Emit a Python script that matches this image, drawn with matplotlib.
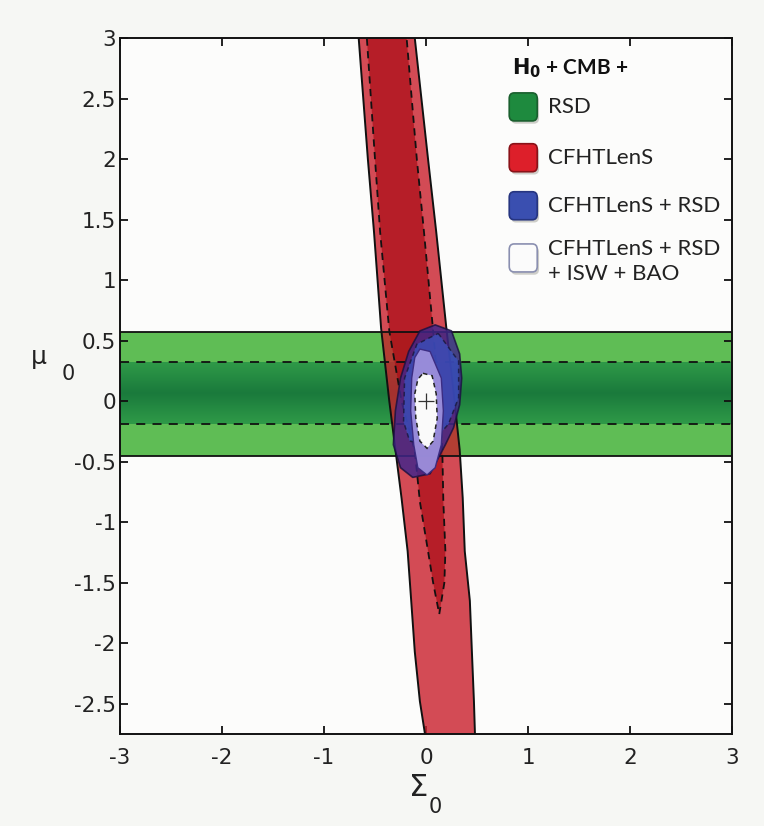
import numpy as np
import matplotlib
matplotlib.use("Agg")
import matplotlib.pyplot as plt
from matplotlib.patches import Polygon, FancyBboxPatch
from matplotlib.colors import LinearSegmentedColormap

plt.rcParams['axes.unicode_minus'] = False
plt.rcParams['font.family'] = ['DejaVu Sans']

# ---------------- data ----------------
# RSD constraint on mu_0 (horizontal band): 95% and 68% limits
rsd_95 = [-0.45, 0.57]
rsd_68 = [-0.19, 0.32]

# CFHTLenS 95% contour: left and right edges (Sigma_0) at given mu_0
cf95_y = [3.10, 3.00, 2.00, 1.40, 0.60, 0.00, -0.40, -0.80, -1.24, -1.65, -2.07, -2.48, -2.75, -2.85]
cf95_left = [-0.67, -0.66, -0.57, -0.51, -0.44, -0.36, -0.30, -0.24, -0.18, -0.145, -0.11, -0.06, -0.01, 0.01]
cf95_right = [-0.12, -0.11, 0.02, 0.10, 0.20, 0.28, 0.33, 0.36, 0.38, 0.43, 0.45, 0.47, 0.48, 0.49]

# CFHTLenS 68% contour (closes at a tip near mu_0 = -1.76)
cf68_y = [3.10, 3.00, 2.00, 1.40, 0.58, 0.00, -0.41, -0.83, -1.24, -1.50, -1.76]
cf68_left = [-0.59, -0.58, -0.50, -0.45, -0.36, -0.24, -0.11, -0.06, 0.02, 0.07, 0.13]
cf68_right = [-0.20, -0.19, -0.09, -0.02, 0.07, 0.13, 0.16, 0.17, 0.19, 0.18, 0.13]

# CFHTLenS + RSD contours (closed outlines)
cr95_x = [0.09, 0.25, 0.33, 0.35, 0.33, 0.27, 0.19, 0.04, -0.13, -0.25, -0.32, -0.30, -0.25, -0.17, -0.06]
cr95_y = [0.63, 0.58, 0.39, 0.19, -0.03, -0.22, -0.36, -0.60, -0.63, -0.55, -0.36, -0.08, 0.19, 0.41, 0.58]
cr68_x = [0.12, 0.32, 0.32, 0.22, 0.04, -0.16, -0.22, -0.21, -0.09]
cr68_y = [0.56, 0.33, 0.03, -0.19, -0.36, -0.33, -0.17, 0.19, 0.47]

# CFHTLenS + RSD + ISW + BAO contours
all95_x = [-0.06, 0.04, 0.15, 0.17, 0.15, 0.09, 0.01, -0.08, -0.12, -0.15, -0.14, -0.11]
all95_y = [0.43, 0.41, 0.19, -0.08, -0.36, -0.55, -0.61, -0.55, -0.36, -0.08, 0.19, 0.36]
all68_x = [-0.03, 0.06, 0.10, 0.11, 0.07, 0.01, -0.06, -0.10, -0.11, -0.08]
all68_y = [0.23, 0.21, 0.06, -0.14, -0.33, -0.39, -0.33, -0.14, 0.06, 0.18]

# GR point
gr_point = (0.0, 0.0)

legend_title = r'$\mathbf{H_0}$' + ' + CMB +'
legend_labels = ['RSD', 'CFHTLenS', 'CFHTLenS + RSD', 'CFHTLenS + RSD\n+ ISW + BAO']

xticks = [-3, -2, -1, 0, 1, 2, 3]
yticks = [-2.5, -2, -1.5, -1, -0.5, 0, 0.5, 1, 1.5, 2, 2.5, 3]
xlim = (-3, 3)
ylim = (-2.75, 3)

# ---------------- figure ----------------
W, H = 764, 826
fig = plt.figure(figsize=(W / 100, H / 100), dpi=100, facecolor='#f6f7f4')
ax = fig.add_axes([120 / W, (H - 734) / H, 612 / W, 696 / H])
ax.set_facecolor('#fcfcfb')

# green RSD band
ax.axhspan(rsd_95[0], rsd_95[1], color='#5fbd55', zorder=1, lw=0)
gcmap = LinearSegmentedColormap.from_list('g', ['#2f9a48', '#1a7a3c', '#2f9a48'])
grad = np.linspace(0, 1, 200).reshape(-1, 1)
ax.imshow(grad, cmap=gcmap, aspect='auto', extent=[xlim[0], xlim[1], rsd_68[0], rsd_68[1]],
          origin='lower', zorder=1.1, interpolation='bilinear')
ax.set_xlim(*xlim)
ax.set_ylim(*ylim)

# red CFHTLenS contours
out_x = cf95_left + cf95_right[::-1]
out_y = cf95_y + cf95_y[::-1]
ax.add_patch(Polygon(np.column_stack([out_x, out_y]), closed=True, facecolor=(0.79, 0.12, 0.17),
                     alpha=0.8, edgecolor='none', zorder=2))
ax.add_patch(Polygon(np.column_stack([out_x, out_y]), closed=True, facecolor='none',
                     edgecolor='#111111', lw=1.4, zorder=2.2, joinstyle='round'))
in_x = cf68_left + cf68_right[::-1]
in_y = cf68_y + cf68_y[::-1]
ax.add_patch(Polygon(np.column_stack([in_x, in_y]), closed=True, facecolor=(0.67, 0.05, 0.09),
                     alpha=0.72, edgecolor='none', zorder=2.1))
ax.add_patch(Polygon(np.column_stack([in_x, in_y]), closed=True, facecolor='none',
                     edgecolor='#111111', lw=1.3, ls=(0, (4, 3)), zorder=2.3))

# green band edges
for v in rsd_95:
    ax.axhline(v, color='#111111', lw=1.3, zorder=2.5)
for v in rsd_68:
    ax.axhline(v, color='#111111', lw=1.3, ls=(0, (5, 4)), zorder=2.5)

# blue CFHTLenS + RSD
ax.add_patch(Polygon(np.column_stack([cr95_x, cr95_y]), closed=True, facecolor=(0.25, 0.15, 0.55),
                     alpha=0.82, edgecolor='#1a1040', lw=1.2, zorder=3, joinstyle='round'))
ax.add_patch(Polygon(np.column_stack([cr68_x, cr68_y]), closed=True, facecolor=(0.22, 0.32, 0.75),
                     alpha=0.75, edgecolor='#151535', lw=1.1, ls=(0, (3, 2.5)), zorder=3.1))

# lavender / white all-data contours
ax.add_patch(Polygon(np.column_stack([all95_x, all95_y]), closed=True, facecolor='#9d8fdc',
                     alpha=0.95, edgecolor='#3a2a80', lw=1.0, zorder=3.2, joinstyle='round'))
ax.add_patch(Polygon(np.column_stack([all68_x, all68_y]), closed=True, facecolor='#fafafa',
                     edgecolor='#222222', lw=1.1, ls=(0, (3, 2.5)), zorder=3.3))

ax.plot([gr_point[0]], [gr_point[1]], marker='+', ms=11, mew=0.9, color='#333333', zorder=4)

# axes styling
ax.set_xticks(xticks)
ax.set_yticks(yticks)
ax.set_xticklabels([f'{t:g}' for t in xticks])
ax.set_yticklabels([f'{t:g}' for t in yticks])
ax.tick_params(direction='in', length=6, width=1.3, top=True, right=True,
               labelsize=15.5, labelcolor='#222222', color='#111111')
ax.tick_params(axis='x', pad=10)
ax.tick_params(axis='y', pad=3)
for s in ax.spines.values():
    s.set_linewidth(1.4)
    s.set_color('#111111')
    s.set_zorder(5)

# axis labels
fig.text(39 / W, (H - 357) / H, '\u03bc', fontsize=18, ha='center', va='center', color='#222222')
fig.text(68 / W, (H - 374) / H, '0', fontsize=15, ha='center', va='center', color='#222222')
fig.text(419 / W, (H - 787) / H, '\u03a3', fontsize=22, ha='center', va='center', color='#222222')
fig.text(435 / W, (H - 807) / H, '0', fontsize=15, ha='center', va='center', color='#222222')

# legend (drawn manually)
lfont = ['Lato', 'DejaVu Sans']
ax.text(0.641, 0.957, legend_title, transform=ax.transAxes, fontsize=15, fontweight='bold',
        family=lfont, ha='left', va='center', color='#111111', math_fontfamily='dejavusans', zorder=6)
leg_colors = ['#1e8a3e', '#dd1f2a', '#3a4fb0', '#fbfbfb']
leg_edges = ['#1a5f2e', '#8a1218', '#263580', '#8a8fb0']
row_y = [0.901, 0.828, 0.759, 0.684]
pw, ph = 28 / 612, 28 / 696
for lab, fc, ec, yy in zip(legend_labels, leg_colors, leg_edges, row_y):
    sh = FancyBboxPatch((0.636 + 0.003, yy - ph / 2 - 0.004), pw, ph,
                        boxstyle='round,pad=0,rounding_size=0.008', transform=ax.transAxes,
                        facecolor='#b0b0a8', edgecolor='none', alpha=0.6, zorder=6)
    ax.add_patch(sh)
    p = FancyBboxPatch((0.636, yy - ph / 2), pw, ph,
                       boxstyle='round,pad=0,rounding_size=0.008', transform=ax.transAxes,
                       facecolor=fc, edgecolor=ec, lw=1.2, zorder=6.1)
    ax.add_patch(p)
    if '\n' in lab:
        ax.text(0.699, yy + 0.027, lab, transform=ax.transAxes, fontsize=16, family=lfont,
                ha='left', va='top', color='#222222', linespacing=1.3, zorder=6)
    else:
        ax.text(0.699, yy, lab, transform=ax.transAxes, fontsize=16, family=lfont,
                ha='left', va='center', color='#222222', zorder=6)

fig.savefig('out.png', dpi=100, facecolor=fig.get_facecolor())
